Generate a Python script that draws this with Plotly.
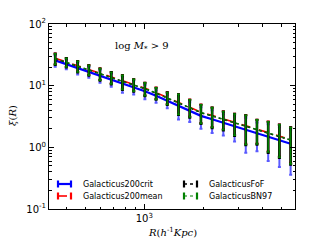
import plotly.graph_objects as go

# Data
R = [352, 401, 458, 522, 595, 679, 774, 883, 1007, 1148, 1309, 1493,
     1703, 1942, 2214, 2525, 2880, 3284, 3745, 4271, 4871, 5555]
xi_crit = [25.7, 22.3, 19.3, 16.7, 14.4, 12.5, 10.7, 9.42, 8.11, 6.86, 5.69, 4.72,
           3.98, 3.24, 2.85, 2.50, 2.19, 1.92, 1.69, 1.48, 1.30, 1.14]
xi_mean = [27.8, 24.2, 21.0, 18.3, 15.8, 13.8, 11.9, 10.5, 9.1, 7.7, 6.45, 5.38,
           4.55, 3.72, 3.29, 2.90, 2.55, 2.24, 1.98, 1.74, 1.53, 1.34]
xi_fof = [27.3, 23.8, 20.6, 17.9, 15.5, 13.5, 11.6, 10.3, 8.9, 7.55, 6.3, 5.27,
          4.45, 3.64, 3.22, 2.84, 2.50, 2.19, 1.94, 1.70, 1.50, 1.31]
xi_bn97 = [27.5, 24.0, 20.8, 18.1, 15.6, 13.6, 11.7, 10.4, 9.0, 7.6, 6.35, 5.32,
           4.50, 3.68, 3.25, 2.87, 2.52, 2.21, 1.96, 1.72, 1.51, 1.32]
err = [5.5, 3.9, 4.1, 3.25, 3.3, 2.9, 3.0, 2.25, 2.1, 1.6, 1.4, 1.9,
       1.4, 1.23, 1.15, 0.94, 0.95, 1.1, 0.83, 0.88, 0.82, 0.78]

ytick_vals = [0.1, 1, 10, 100]
ytick_text = ["10<sup>-1</sup>", "10<sup>0</sup>", "10<sup>1</sup>", "10<sup>2</sup>"]
xtick_vals = [1000]
xtick_text = ["10<sup>3</sup>"]
y_minor = [m * d for d in (0.1, 1, 10) for m in range(2, 10)]
x_minor = [m * d for d in (100, 1000) for m in range(2, 10) if 330 < m * d < 5900]

OFF = 8  # page body margin
W, H = 328, 246
L, T = 49 - OFF, 24 - OFF
pw, ph = 246, 185
Rm, B = W - L - pw, H - T - ph


def px(xp, yp):
    # reference screen pixel -> paper coords
    return (xp - OFF - L) / pw, 1 - (yp - OFF - T) / ph


fig = go.Figure()

# name, values, line colour, dash, line width, errorbar colour, errorbar width
series = [
    ("Galacticus200crit", xi_crit, "#0000ff", "solid", 2.2, "#5a5aff", 2.0),
    ("Galacticus200mean", xi_mean, "#ff0000", "dash", 1.6, "#ff0000", 2.0),
    ("GalacticusFoF", xi_fof, "#000000", "dot", 1.4, "#000000", 2.6),
    ("GalacticusBN97", xi_bn97, "#008000", "dot", 1.2, "#008000", 1.6),
]
for name, y, col, dash, lw, ecol, ew in series:
    fig.add_trace(go.Scatter(
        x=R, y=y, name=name, mode="lines", showlegend=False,
        line=dict(color=col, dash=dash, width=lw),
        error_y=dict(type="data", array=err, visible=True, color=ecol,
                     thickness=ew, width=1.5),
    ))

serif = dict(family="DejaVu Serif", size=10, color="black")
sans8 = dict(family="DejaVu Sans", size=8, color="black")


def note(xp, yp, text, font, **kw):
    ax, ay = px(xp, yp)
    opts = dict(xanchor="center", yanchor="middle")
    opts.update(kw)
    fig.add_annotation(x=ax, y=ay, xref="paper", yref="paper", showarrow=False,
                       text=text, font=font, **opts)


note(142, 46, "log <i>M</i><sub>*</sub> > 9", serif)
note(172, 232, "<i>R</i>(<i>h</i><sup>-1</sup><i>Kpc</i>)", serif)
note(12, 116, "<i>ξ</i>(<i>R</i>)", serif, textangle=-90)

# manual legend (errorbar-style symbols)
legend_items = [
    (series[0], 58, 81, 184),
    (series[1], 58, 81, 196),
    (series[2], 184, 207, 184),
    (series[3], 184, 207, 196),
]
for (name, _, col, dash, lw, ecol, ew), sx, txp, yl in legend_items:
    x0, y0 = px(sx, yl)
    x1, _ = px(sx + 13, yl)
    _, yt = px(sx, yl - 3.5)
    _, yb = px(sx, yl + 3.5)
    fig.add_shape(type="line", xref="paper", yref="paper", x0=x0, x1=x1, y0=y0, y1=y0,
                  line=dict(color=col, width=lw, dash=dash))
    for xc in (x0, x1):
        fig.add_shape(type="line", xref="paper", yref="paper", x0=xc, x1=xc, y0=yb, y1=yt,
                      line=dict(color=col, width=2.2))
    note(txp, yl, name, sans8, xanchor="left")

axis_common = dict(
    type="log", showgrid=False, zeroline=False, showline=True, automargin=False,
    linecolor="black", linewidth=1, mirror="allticks",
    ticks="inside", ticklen=5, tickcolor="black", tickwidth=1,
    tickfont=dict(family="DejaVu Sans", size=10, color="black"),
)

fig.update_layout(
    width=W, height=H,
    margin=dict(l=L, r=Rm, t=T, b=B, autoexpand=False),
    paper_bgcolor="white", plot_bgcolor="white",
    xaxis=dict(range=[2.515, 3.767], tickvals=xtick_vals, ticktext=xtick_text,
               minor=dict(ticks="inside", ticklen=2.5, tickcolor="black", showgrid=False,
                          tickmode="array", tickvals=x_minor),
               **axis_common),
    yaxis=dict(range=[-1, 2], tickvals=ytick_vals, ticktext=ytick_text,
               minor=dict(ticks="inside", ticklen=2.5, tickcolor="black", showgrid=False,
                          tickmode="array", tickvals=y_minor),
               **axis_common),
    showlegend=False,
)

fig.write_html("out.html")
